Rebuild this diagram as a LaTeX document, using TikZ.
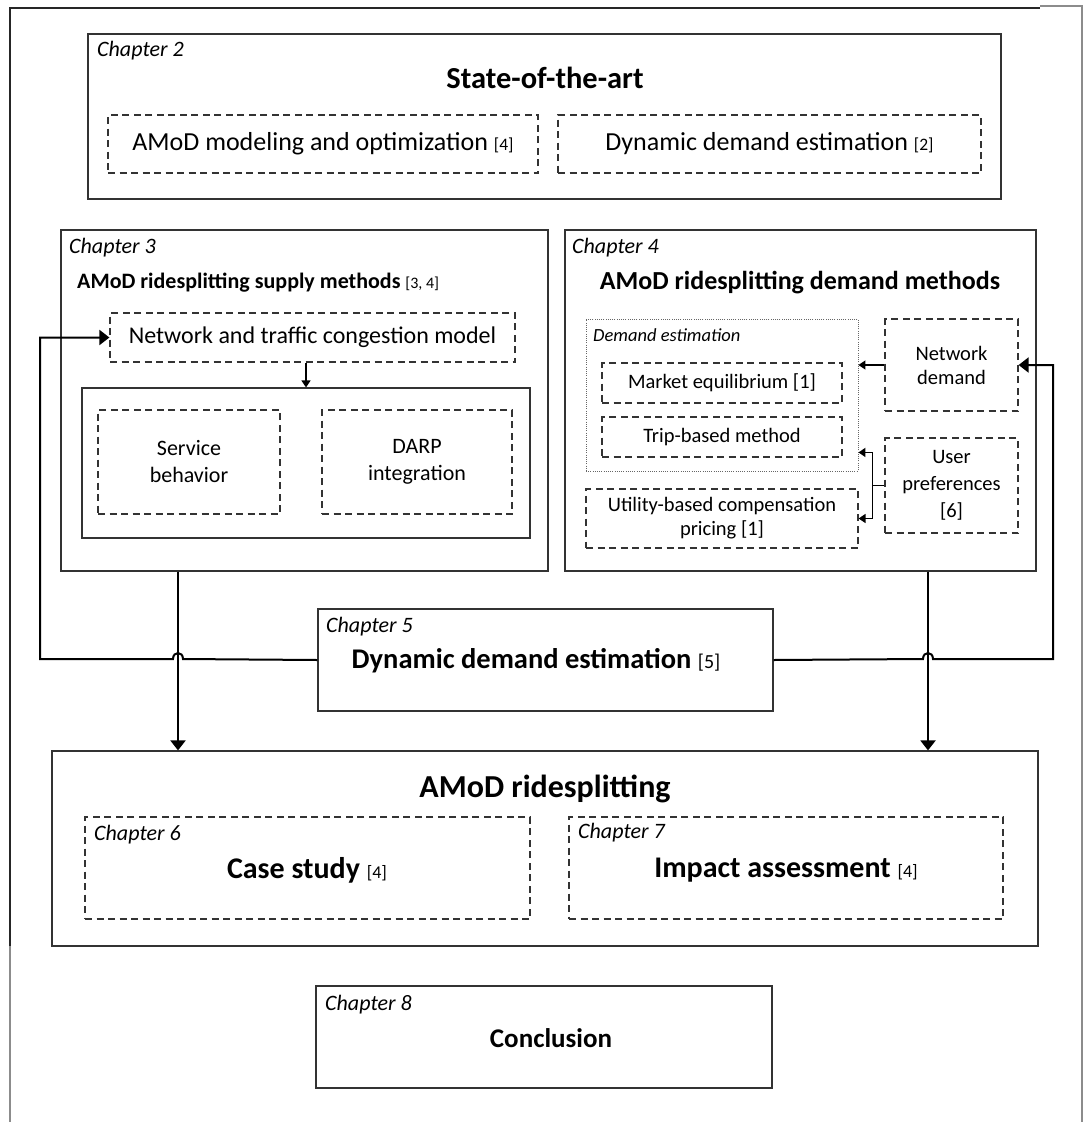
\documentclass[tikz,border=0pt]{standalone}
\usepackage{fontspec}
\setmainfont{Carlito}
\usetikzlibrary{arrows.meta,fit,calc}
\newcommand\fsz[2]{\fontsize{#1}{#2}\selectfont}
\newcommand\cit[1]{{\fsz{17.5}{20}#1}}
\begin{document}
\begin{tikzpicture}[x=1pt,y=-1pt,
  solidbox/.style={draw=black!80,line width=1.2pt,inner sep=0pt},
  dashbox/.style={draw=black!80,line width=1.2pt,dash pattern=on 7pt off 4.5pt,inner sep=0pt},
  dotbox/.style={draw=black!60,line width=0.9pt,dash pattern=on 1pt off 1.2pt,inner sep=0pt},
  chap/.style={anchor=west,inner sep=0pt,font=\fsz{22}{25}\itshape},
  txt/.style={inner sep=0pt,align=center},
  conn/.style={line width=2pt,-{Triangle[width=15pt,length=10pt]}},
  link/.style={line width=1.6pt,-{Triangle[width=9pt,length=7pt]}},
  plain/.style={line width=1.6pt}]
\useasboundingbox (0,0) rectangle (1084,1122);
% page frame
\draw[black!85,line width=1.2pt] (10,946) -- (10,8) -- (1040,8);
\draw[black!45,line width=2pt] (10,946) -- (10,1122);
\draw[black!45,line width=1.6pt] (1040,6) -- (1082,6) -- (1082,1122);

% Chapter 2
\node[solidbox,fit={(88,34) (1001,199)}] (ch2) {};
\node[chap] (ch2lab) at (97,51) {Chapter 2};
\node[txt,font=\fsz{30.5}{34}\bfseries] (ch2tit) at (545,78) {State-of-the-art};
\node[dashbox,fit={(108,115) (538,173)}] (amodopt) {};
\node[txt,font=\fsz{26}{29}] at (amodopt) {AMoD modeling and optimization \cit{[4]}};
\node[dashbox,fit={(558,115) (981,173)}] (dde2) {};
\node[txt,font=\fsz{26}{29}] at (dde2) {Dynamic demand estimation \cit{[2]}};

% Chapter 3
\node[solidbox,fit={(61,230) (548,571)}] (ch3) {};
\node[chap] (ch3lab) at (69,248) {Chapter 3};
\node[txt,anchor=west,font=\fsz{22}{26}\bfseries] (ch3tit) at (77,283) {AMoD ridesplitting supply methods {\mdseries\fsz{16}{19}[3, 4]}};
\node[dashbox,fit={(110,313) (515,362)}] (net) {};
\node[txt,font=\fsz{24}{27}] at (net) {Network and traffic congestion model};
\node[solidbox,fit={(82,388) (530,538)}] (inner) {};
\node[dashbox,fit={(98,410) (280,514)}] (serv) {};
\node[txt,font=\fsz{22}{27}] at (serv) {Service\\behavior};
\node[dashbox,fit={(322,410) (512,514)}] (darp) {};
\node[txt,font=\fsz{22}{27}] at (darp) {DARP\\integration};
\draw[link] (inner.north |- net.south) -- (inner.north);

% Chapter 4
\node[solidbox,fit={(565,230) (1036,571)}] (ch4) {};
\node[chap] (ch4lab) at (572,248) {Chapter 4};
\node[txt,font=\fsz{26}{30}\bfseries] (ch4tit) at (800,283) {AMoD ridesplitting demand methods};
\node[dotbox,fit={(586,319) (858,471)}] (dest) {};
\node[chap,font=\fsz{18.5}{21}\itshape] (destlab) at (593,335) {Demand estimation};
\node[dashbox,fit={(602,363) (842,403)}] (market) {};
\node[txt,font=\fsz{20.5}{24}] at (market) {Market equilibrium [1]};
\node[dashbox,fit={(602,417) (842,457)}] (trip) {};
\node[txt,font=\fsz{20.5}{24}] at (trip) {Trip-based method};
\node[dashbox,fit={(586,489) (858,548)}] (util) {};
\node[txt,font=\fsz{20.5}{24}] at (util) {Utility-based compensation\\pricing [1]};
\node[dashbox,fit={(885,319) (1018,411)}] (netd) {};
\node[txt,font=\fsz{20.5}{24}] at (netd) {Network\\demand};
\node[dashbox,fit={(885,438) (1018,533)}] (userp) {};
\node[txt,font=\fsz{20.5}{27}] at (userp) {User\\preferences\\{}[6]};
\draw[link] (netd.west) -- (dest.east |- netd.west);
\coordinate (uj) at ($(userp.west)+(-12,0)$);
\draw[plain] (userp.west) -- (uj);
\draw[link] (uj) |- ($(dest.south east)+(0,-19)$);
\draw[link] (uj) |- (util.east);

% Chapter 5
\node[solidbox,fit={(318,609) (773,711)}] (ch5) {};
\node[chap] (ch5lab) at (326,627) {Chapter 5};
\node[txt,font=\fsz{28.5}{32}\bfseries] (ch5tit) at (536,661) {Dynamic demand estimation {\mdseries\fsz{20}{24}[5]}};

% AMoD ridesplitting
\node[solidbox,fit={(52,751) (1038,946)}] (amod) {};
\node[txt,font=\fsz{32}{36}\bfseries] (amodtit) at (545,789) {AMoD ridesplitting};
\node[dashbox,fit={(85,817) (530,919)}] (ch6) {};
\node[chap] (ch6lab) at (94,835) {Chapter 6};
\node[txt,font=\fsz{30}{34}\bfseries] at (307,870) {Case study {\mdseries\fsz{18}{22}[4]}};
\node[dashbox,fit={(569,817) (1003,919)}] (ch7) {};
\node[chap] (ch7lab) at (578,833) {Chapter 7};
\node[txt,font=\fsz{30}{34}\bfseries] at (786,870) {Impact assessment {\mdseries\fsz{18}{22}[4]}};

% Chapter 8
\node[solidbox,fit={(316,986) (772,1088)}] (ch8) {};
\node[chap] (ch8lab) at (325,1005) {Chapter 8};
\node[txt,font=\fsz{27}{31}\bfseries] (ch8tit) at (551,1038) {Conclusion};

% flows between chapters
\coordinate (v3) at (178,0);
\coordinate (v4) at (928,0);
\draw[conn] (ch3.south -| v3) -- (amod.north -| v3);
\draw[conn] (ch4.south -| v4) -- (amod.north -| v4);
% feedback loops with hops over the vertical flows
\draw[conn] (ch5.west) -- (183,659) .. controls (183,651) and (173,651) .. (173,659) -- (40,659) |- (net.west);
\draw[conn] (ch5.east) -- (923,659) .. controls (923,651) and (933,651) .. (933,659) -- (1053,659) |- (netd.east);
\end{tikzpicture}
\end{document}
